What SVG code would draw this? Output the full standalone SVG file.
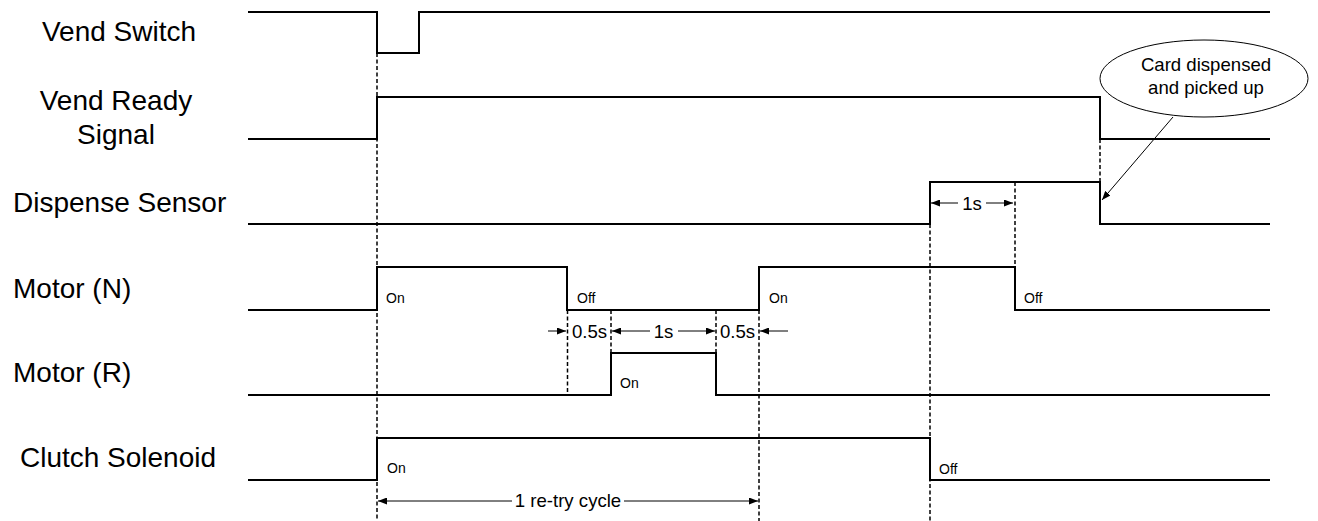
<svg xmlns="http://www.w3.org/2000/svg" width="1318" height="521" viewBox="0 0 1318 521">
<style>
.lbl{font-family:"Liberation Sans",Arial,sans-serif;font-size:28px;fill:#000}
.st{font-family:"Liberation Sans",Arial,sans-serif;font-size:14px;fill:#000}
.dim{font-family:"Liberation Sans",Arial,sans-serif;font-size:18.6px;fill:#000}
.sig{fill:none;stroke:#000;stroke-width:2}
.dash{fill:none;stroke:#000;stroke-width:1.5;stroke-dasharray:4,2.5}
.arr{fill:none;stroke:#000;stroke-width:1;marker-end:url(#ah)}
</style>
<defs>
<marker id="ah" markerWidth="9" markerHeight="7" refX="9" refY="3.5" orient="auto" markerUnits="userSpaceOnUse">
<path d="M0,0 L9,3.5 L0,7 z" fill="#000"/>
</marker>
</defs>
<rect width="1318" height="521" fill="#fff"/>
<g id="vend-switch">
<text class="lbl" x="119" y="41" text-anchor="middle">Vend Switch</text>
<polyline class="sig" points="248,12 377,12 377,53 419,53 419,12 1270,12"/>
</g>
<g id="vend-ready">
<text class="lbl" x="116" y="110" text-anchor="middle">Vend Ready</text>
<text class="lbl" x="116" y="144" text-anchor="middle">Signal</text>
<polyline class="sig" points="248,139 377,139 377,97 1100,97 1100,139 1270,139"/>
</g>
<g id="dispense-sensor">
<text class="lbl" x="13" y="212">Dispense Sensor</text>
<polyline class="sig" points="248,224 930,224 930,182 1100,182 1100,224 1270,224"/>
</g>
<g id="motor-n">
<text class="lbl" x="13" y="298">Motor (N)</text>
<polyline class="sig" points="248,310 377,310 377,267 567,267 567,310 759,310 759,267 1015,267 1015,310 1270,310"/>
<text class="st" x="386" y="303">On</text>
<text class="st" x="577" y="303">Off</text>
<text class="st" x="769" y="303">On</text>
<text class="st" x="1024" y="303">Off</text>
</g>
<g id="motor-r">
<text class="lbl" x="13" y="382">Motor (R)</text>
<polyline class="sig" points="248,395 611,395 611,353 716,353 716,395 1270,395"/>
<text class="st" x="620" y="388">On</text>
</g>
<g id="clutch-solenoid">
<text class="lbl" x="118" y="467" text-anchor="middle">Clutch Solenoid</text>
<polyline class="sig" points="248,480 377,480 377,438 930,438 930,480 1270,480"/>
<text class="st" x="387" y="473">On</text>
<text class="st" x="939" y="474">Off</text>
</g>
<g id="callout">
<ellipse cx="1204" cy="78.5" rx="104" ry="38.5" fill="#fff" stroke="#000" stroke-width="1"/>
<text class="dim" x="1206" y="71" text-anchor="middle">Card dispensed</text>
<text class="dim" x="1206" y="94" text-anchor="middle">and picked up</text>
</g>
<g id="connectors">
<line class="dash" x1="377" y1="53" x2="377" y2="521"/>
<line class="dash" x1="1100" y1="139" x2="1100" y2="182"/>
<line class="dash" x1="930" y1="224" x2="930" y2="521"/>
<line class="dash" x1="1015" y1="182" x2="1015" y2="267"/>
<line class="dash" x1="567.5" y1="310" x2="567.5" y2="395"/>
<line class="dash" x1="611" y1="310" x2="611" y2="353"/>
<line class="dash" x1="716" y1="310" x2="716" y2="353"/>
<line class="dash" x1="759" y1="310" x2="759" y2="521"/>
<line class="arr" x1="1173" y1="117" x2="1102" y2="200"/>
<line class="arr" x1="958" y1="203" x2="931" y2="203"/>
<line class="arr" x1="986" y1="203" x2="1013" y2="203"/>
<text class="dim" x="972" y="210" text-anchor="middle">1s</text>
<line class="arr" x1="548" y1="331" x2="566" y2="331"/>
<text class="dim" x="589.5" y="338" text-anchor="middle">0.5s</text>
<line class="arr" x1="650" y1="331" x2="612" y2="331"/>
<text class="dim" x="663.5" y="338" text-anchor="middle">1s</text>
<line class="arr" x1="678" y1="331" x2="715" y2="331"/>
<text class="dim" x="737.5" y="338" text-anchor="middle">0.5s</text>
<line class="arr" x1="788" y1="331" x2="760" y2="331"/>
<line class="arr" x1="512" y1="501" x2="378" y2="501"/>
<line class="arr" x1="624" y1="501" x2="758" y2="501"/>
<text class="dim" x="568" y="507" text-anchor="middle">1 re-try cycle</text>
</g>
</svg>
